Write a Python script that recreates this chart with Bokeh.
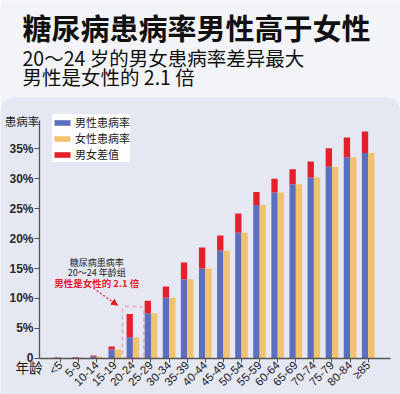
import math
from bokeh.plotting import figure
from bokeh.models import (ColumnDataSource, Range1d, FixedTicker, Label, LinearAxis,
                          BoxAnnotation, Arrow, NormalHead, Legend, LegendItem)
from bokeh.transform import dodge
from bokeh.embed import file_html
from bokeh.resources import INLINE

# ---------------- data ----------------
categories = ["<5", "5-9", "10-14", "15-19", "20-24", "25-29", "30-34", "35-39", "40-44",
              "45-49", "50-54", "55-59", "60-64", "65-69", "70-74", "75-79", "80-84", "≥85"]
male_rate = [0.1, 0.2, 0.45, 1.95, 7.4, 9.6, 12.0, 16.0, 18.5, 20.5, 24.2, 27.8, 30.0,
             31.6, 32.9, 35.1, 36.9, 37.9]
female_rate = [0.05, 0.1, 0.3, 1.45, 3.5, 7.5, 10.1, 13.2, 15.0, 18.0, 21.0, 25.6, 27.7,
               29.1, 30.2, 32.0, 33.6, 34.3]
y_ticks = [0, 5, 10, 15, 20, 25, 30, 35]
y_tick_labels = ["0", "5%", "10%", "15%", "20%", "25%", "30%", "35%"]
series_names = ["男性患病率", "女性患病率", "男女差值"]
title_text = "糖尿病患病率男性高于女性"
subtitle_lines = ["20～24 岁的男女患病率差异最大", "男性是女性的 2.1 倍"]
note_lines = ["糖尿病患病率", "20～24 年龄组", "男性是女性的 2.1 倍"]
y_title = "患病率"
x_title = "年龄"
highlight = "20-24"

FONT = "Noto Sans CJK SC"
BLUE = "#5b6fbe"
ORANGE = "#f1c36f"
RED = "#e5202b"
HEADER_BG = "#f3f4f8"
PANEL_BG = "#e5e8f3"
INK = "#1a1a1a"

W, H = 400, 394
idx = list(range(len(categories)))

# the whole canvas is the plot frame; axes are pinned inside it with fixed_location
p = figure(width=W, height=H, x_range=Range1d(-3.315, 18.785), y_range=Range1d(-6.07, 59.82),
           x_axis_type=None, y_axis_type=None, output_backend="svg", toolbar_location=None,
           min_border=0)
p.background_fill_color = HEADER_BG
p.border_fill_color = HEADER_BG
p.outline_line_color = None
p.grid.visible = False

# chart card under the header
p.add_layout(BoxAnnotation(left=0, right=W, bottom=-30, top=H - 97, left_units="screen",
                           right_units="screen", bottom_units="screen", top_units="screen",
                           fill_color=PANEL_BG, fill_alpha=1, line_color=None,
                           border_radius=14, level="underlay"))

# header texts
p.add_layout(Label(x=22, y=H - 26, x_units="screen", y_units="screen", text=title_text,
                   text_font=FONT, text_font_size="29px", text_font_style="bold",
                   text_color="#111111", text_baseline="middle"))
p.add_layout(Label(x=22, y=H - 56.5, x_units="screen", y_units="screen", text=subtitle_lines[0],
                   text_font=FONT, text_font_size="19.5px", text_color="#111111",
                   text_baseline="middle"))
p.add_layout(Label(x=22, y=H - 76, x_units="screen", y_units="screen", text=subtitle_lines[1],
                   text_font=FONT, text_font_size="19.5px", text_color="#111111",
                   text_baseline="middle"))

# bars: blue up to the female level, red difference stacked up to the male value; orange = female
src = ColumnDataSource(dict(pos=idx, male=male_rate, female=female_rate,
                            zero=[0] * len(categories)))
bw = 0.35
r_blue = p.vbar(x=dodge("pos", -bw / 2), top="female", bottom="zero", width=bw,
                source=src, fill_color=BLUE, line_color=None)
r_red = p.vbar(x=dodge("pos", -bw / 2), top="male", bottom="female", width=bw,
               source=src, fill_color=RED, line_color=None)
r_orange = p.vbar(x=dodge("pos", bw / 2), top="female", bottom="zero", width=bw,
                  source=src, fill_color=ORANGE, line_color=None)

# axes pinned at y=0 and at the left edge of the chart
x_left = -1.16
yax = LinearAxis(fixed_location=x_left, bounds=(0, 39.8))
yax.ticker = FixedTicker(ticks=y_ticks)
yax.major_label_overrides = {t: l for t, l in zip(y_ticks, y_tick_labels)}
yax.axis_line_color = "#555555"
yax.axis_line_width = 1.3
yax.major_tick_line_color = "#555555"
yax.major_tick_out = 5
yax.major_tick_in = 0
yax.minor_tick_line_color = None
yax.major_label_text_font = "Liberation Sans"
yax.major_label_text_font_size = "12px"
yax.major_label_text_font_style = "bold"
yax.major_label_text_color = "#2a2a2a"
yax.major_label_standoff = 1
p.add_layout(yax, "left")

xax = LinearAxis(fixed_location=0, bounds=(x_left, 18.23))
xax.ticker = FixedTicker(ticks=idx)
xax.major_label_overrides = {i: c for i, c in zip(idx, categories)}
xax.axis_line_color = "#555555"
xax.axis_line_width = 1.3
xax.major_tick_line_color = "#555555"
xax.major_tick_out = 4
xax.major_tick_in = 0
xax.minor_tick_line_color = None
xax.major_label_orientation = math.pi / 4
xax.major_label_text_font = "Liberation Sans"
xax.major_label_text_font_size = "11.5px"
xax.major_label_text_color = INK
xax.major_label_standoff = 1
p.add_layout(xax, "below")

# axis titles
p.add_layout(Label(x=21.5, y=H - 120, x_units="screen", y_units="screen", text=y_title,
                   text_font=FONT, text_font_size="11.5px", text_color=INK,
                   text_align="center", text_baseline="middle"))
p.add_layout(Label(x=28.5, y=H - 366.5, x_units="screen", y_units="screen", text=x_title,
                   text_font=FONT, text_font_size="13.5px", text_color=INK,
                   text_align="center", text_baseline="middle"))

# legend
LEG_H = 42
legend = Legend(items=[LegendItem(label=series_names[0], renderers=[r_blue]),
                       LegendItem(label=series_names[1], renderers=[r_orange]),
                       LegendItem(label=series_names[2], renderers=[r_red])],
                location=(52, H - 120 - LEG_H), orientation="vertical")
legend.label_text_font = FONT
legend.label_text_font_size = "11px"
legend.label_text_color = "#222222"
legend.label_height = 9
legend.glyph_height = 7
legend.glyph_width = 20
legend.spacing = -5
legend.padding = 3
legend.margin = 0
legend.label_standoff = 3
legend.background_fill_color = "white"
legend.background_fill_alpha = 0.95
legend.border_line_color = None
p.add_layout(legend)

# highlight annotation for the 20-24 group
hi = categories.index(highlight)
p.add_layout(BoxAnnotation(left=hi - 0.58, right=hi + 0.6, bottom=0, top=male_rate[hi] + 1.25,
                           fill_alpha=0, line_color=RED, line_width=1.5, line_dash="4 3",
                           border_radius=3))
p.add_layout(Arrow(x_start=hi - 2.18, y_start=male_rate[hi] + 4.3, x_end=hi - 0.85,
                   y_end=male_rate[hi] + 1.45, line_color=RED, line_width=1.2, line_dash="2 2",
                   end=NormalHead(size=6, fill_color=RED, line_color=RED)))
note_x = hi - 2.0
note_y = [male_rate[hi] + 8.55, male_rate[hi] + 6.85, male_rate[hi] + 5.2]
note_colors = ["#222222", "#222222", RED]
note_styles = ["normal", "normal", "bold"]
note_sizes = ["9px", "9px", "9.5px"]
for t, yy, c, s, fs in zip(note_lines, note_y, note_colors, note_styles, note_sizes):
    p.add_layout(Label(x=note_x, y=yy, text=t, text_font=FONT, text_font_size=fs,
                       text_color=c, text_font_style=s, text_align="center",
                       text_baseline="middle"))

open("out.html", "w").write(file_html(p, INLINE))
